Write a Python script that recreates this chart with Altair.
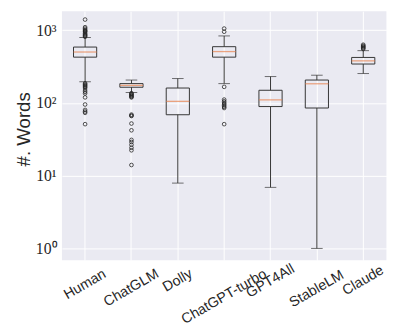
import altair as alt
import pandas as pd

models = ["Human", "ChatGLM", "Dolly", "ChatGPT-turbo", "GPT4All", "StableLM", "Claude"]
whisker_low = [195, 139, 7.9, 184, 6.9, 1.0, 253]
q1 = [425, 164, 68.7, 425, 89, 85, 342]
median = [500, 174, 105, 507, 110, 183, 378]
q3 = [585, 184, 160, 592, 149, 206, 421]
whisker_high = [790, 206, 216, 832, 230, 240, 522]

human_out = [1396, 1097, 1050, 1010, 980, 966, 940, 900, 870, 850, 830, 810,
             186, 180, 175, 170, 165, 160, 150, 142, 135, 119, 95, 80, 76, 73, 51]
chatglm_out = [136, 133, 130, 127, 124, 121, 119, 69, 67, 66, 52, 42, 31, 29, 26.6, 24.2, 22.3, 14]
turbo_out = [1050, 950, 166, 111, 105, 100, 96, 92, 88, 85, 51]
claude_out = [630, 610, 595, 580, 565, 550]

label_pad = [24.5, 28, 20.5, 37, 21, 29, 20.5]

stats = pd.DataFrame({
    "model": models, "lo": whisker_low, "q1": q1, "med": median,
    "q3": q3, "hi": whisker_high,
})
outliers = pd.DataFrame({
    "model": ["Human"] * len(human_out) + ["ChatGLM"] * len(chatglm_out)
             + ["ChatGPT-turbo"] * len(turbo_out) + ["Claude"] * len(claude_out),
    "v": human_out + chatglm_out + turbo_out + claude_out,
})

pad_cond = {
    "condition": [{"test": f"datum.value === '{m}'", "value": p} for m, p in zip(models, label_pad)],
    "value": 24,
}

x_enc = alt.X(
    "model:N", sort=models, title=None,
    scale=alt.Scale(paddingInner=0, paddingOuter=0),
    axis=alt.Axis(
        labelAngle=-30, labelAlign="center", labelBaseline="middle",
        labelPadding=pad_cond, labelFont="Liberation Sans", labelFontSize=14.5,
        labelColor="#262626", ticks=False, tickSize=0, domain=False,
        grid=True, gridColor="white", gridWidth=1, bandPosition=0.5,
    ),
)

yscale = alt.Scale(type="log", domain=[0.689, 1820], nice=False)
yaxis = alt.Axis(
    values=[1, 10, 100, 1000],
    labelExpr="datum.value == 1000 ? '10³' : datum.value == 100 ? '10²' : datum.value == 10 ? '10¹' : '10⁰'",
    labelFont="Liberation Serif", labelFontSize=16, labelColor="#262626",
    labelPadding=6, ticks=False, tickSize=0, domain=False,
    grid=True, gridColor="white", gridWidth=1,
    title="#. Words", titleFont="Liberation Sans", titleFontSize=19,
    titleFontWeight="normal", titleColor="#262626",
    titleAngle=270, titleAlign="center", titleBaseline="middle",
    titleX=-39, titleY=120,
)


def Y(field):
    return alt.Y(field, scale=yscale, axis=yaxis)


base = alt.Chart(stats).encode(x=x_enc)
line_col = "#333333"

whisk_low = base.mark_rule(color=line_col, strokeWidth=1).encode(y=Y("lo:Q"), y2="q1:Q")
whisk_hi = base.mark_rule(color=line_col, strokeWidth=1).encode(y=Y("q3:Q"), y2="hi:Q")
box = base.mark_bar(
    width=alt.RelativeBandSize(0.5), fill="white", fillOpacity=0,
    stroke=line_col, strokeWidth=1,
).encode(y=Y("q1:Q"), y2="q3:Q")
cap_lo = base.mark_tick(color=line_col, size=11.8, thickness=1).encode(y=Y("lo:Q"))
cap_hi = base.mark_tick(color=line_col, size=11.8, thickness=1).encode(y=Y("hi:Q"))
med = base.mark_tick(color="#E8834F", size=23.6, thickness=1.3).encode(y=Y("med:Q"))
pts = alt.Chart(outliers).mark_point(
    shape="circle", size=14, filled=False, stroke="#222222", strokeWidth=0.8, opacity=1,
).encode(x=x_enc, y=Y("v:Q"))

chart = alt.layer(whisk_low, whisk_hi, box, cap_lo, cap_hi, med, pts).properties(
    width=331, height=254,
    autosize=alt.AutoSizeParams(type="none"),
    padding={"left": 55, "top": 0, "right": 21, "bottom": 70},
    background="white",
).configure_view(fill="#EAEAF2", strokeWidth=0)

chart.save("out.html", embed_options={"renderer": "svg", "actions": False})
